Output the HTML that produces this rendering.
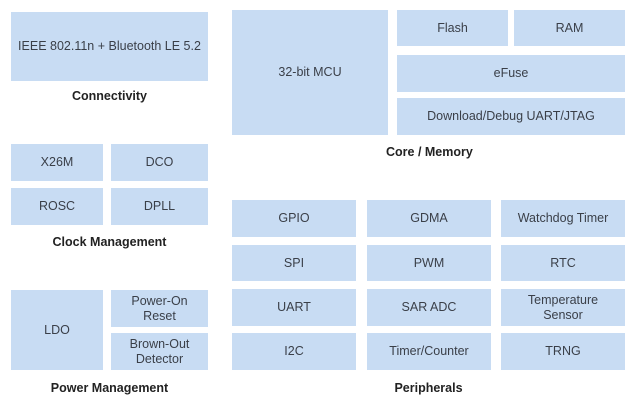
<!DOCTYPE html>
<html><head><style>
body{margin:0;width:640px;height:403px;background:#fff;position:relative;overflow:hidden;font-family:"Liberation Sans",sans-serif;}
.b{position:absolute;background:#c8dcf3;color:#3a3f48;font-size:12.5px;display:flex;align-items:center;justify-content:center;text-align:center;line-height:15px;}
.l{position:absolute;font-size:12.5px;font-weight:bold;color:#222;text-align:center;}
</style></head><body>
<div class="b" style="left:11px;top:12px;width:197px;height:69px">IEEE 802.11n + Bluetooth LE 5.2</div>
<div class="l" style="left:11px;top:89px;width:197px">Connectivity</div>

<div class="b" style="left:232px;top:10px;width:156px;height:125px">32-bit MCU</div>
<div class="b" style="left:397px;top:10px;width:111px;height:36px">Flash</div>
<div class="b" style="left:514px;top:10px;width:111px;height:36px">RAM</div>
<div class="b" style="left:397px;top:55px;width:228px;height:37px">eFuse</div>
<div class="b" style="left:397px;top:98px;width:228px;height:37px">Download/Debug UART/JTAG</div>
<div class="l" style="left:386px;top:145px;text-align:left">Core / Memory</div>

<div class="b" style="left:11px;top:144px;width:92px;height:37px">X26M</div>
<div class="b" style="left:111px;top:144px;width:97px;height:37px">DCO</div>
<div class="b" style="left:11px;top:188px;width:92px;height:37px">ROSC</div>
<div class="b" style="left:111px;top:188px;width:97px;height:37px">DPLL</div>
<div class="l" style="left:11px;top:235px;width:197px">Clock Management</div>

<div class="b" style="left:11px;top:290px;width:92px;height:80px">LDO</div>
<div class="b" style="left:111px;top:290px;width:97px;height:37px">Power-On<br>Reset</div>
<div class="b" style="left:111px;top:333px;width:97px;height:37px">Brown-Out<br>Detector</div>
<div class="l" style="left:11px;top:381px;width:197px">Power Management</div>

<div class="b" style="left:232px;top:200px;width:124px;height:37px">GPIO</div>
<div class="b" style="left:367px;top:200px;width:124px;height:37px">GDMA</div>
<div class="b" style="left:501px;top:200px;width:124px;height:37px">Watchdog Timer</div>
<div class="b" style="left:232px;top:245px;width:124px;height:36px">SPI</div>
<div class="b" style="left:367px;top:245px;width:124px;height:36px">PWM</div>
<div class="b" style="left:501px;top:245px;width:124px;height:36px">RTC</div>
<div class="b" style="left:232px;top:289px;width:124px;height:37px">UART</div>
<div class="b" style="left:367px;top:289px;width:124px;height:37px">SAR ADC</div>
<div class="b" style="left:501px;top:289px;width:124px;height:37px">Temperature<br>Sensor</div>
<div class="b" style="left:232px;top:333px;width:124px;height:37px">I2C</div>
<div class="b" style="left:367px;top:333px;width:124px;height:37px">Timer/Counter</div>
<div class="b" style="left:501px;top:333px;width:124px;height:37px">TRNG</div>
<div class="l" style="left:232px;top:381px;width:393px">Peripherals</div>
</body></html>
